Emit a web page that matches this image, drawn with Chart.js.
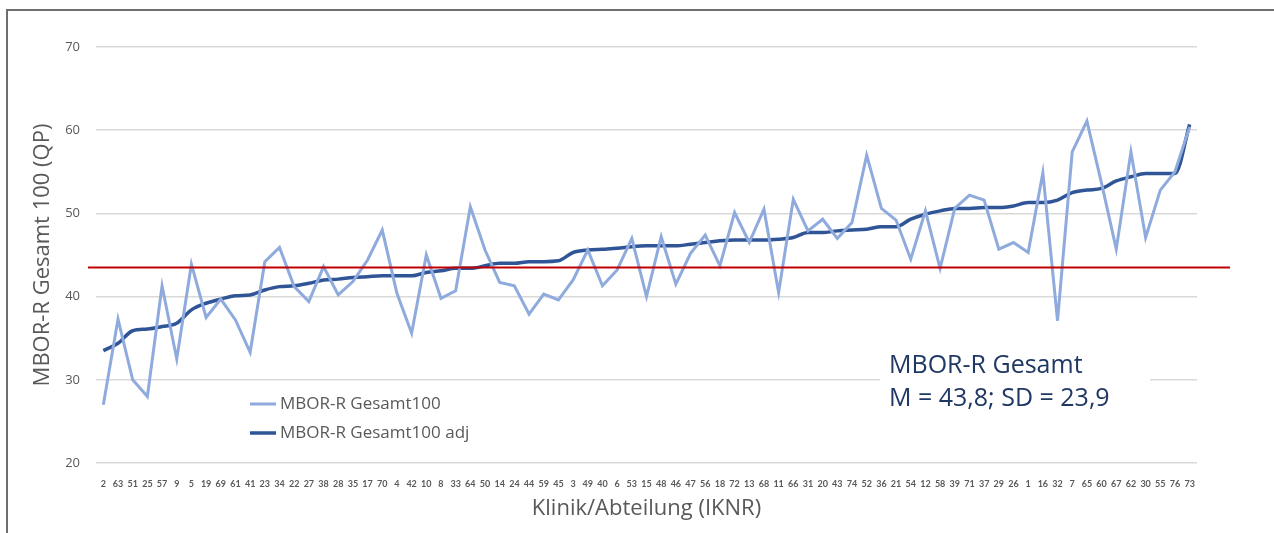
<!DOCTYPE html>
<html>
<head>
<meta charset="utf-8">
<script src="https://cdn.jsdelivr.net/npm/chart.js@4"></script>
<style>
  html, body { margin: 0; padding: 0; background: #fff; }
  #wrap { position: relative; width: 1274px; height: 533px; }
  #frame { position: absolute; left: 6px; top: 9px; right: 0; bottom: 0; border-left: 2px solid #6e6e6e; border-top: 2px solid #6e6e6e; pointer-events: none; }
</style>
</head>
<body>
<div id="wrap">
  <canvas id="chart" width="1274" height="533"></canvas>
  <div id="frame"></div>
</div>
<script>
// Klinik/Abteilung (IKNR), sortiert nach adjustiertem Wert
var kliniken = ['2','63','51','25','57','9','5','19','69','61','41','23','34','22','27','38','28','35','17','70',
  '4','42','10','8','33','64','50','14','24','44','59','45','3','49','40','6','53','15','48','46',
  '47','56','18','72','13','68','11','66','31','20','43','74','52','36','21','54','12','58','39','71',
  '37','29','26','1','16','32','7','65','60','67','62','30','55','76','73'];

// MBOR-R Gesamt100 (roh)
var gesamt100 = [27.0,37.3,30.0,28.0,41.3,32.5,43.9,37.5,39.7,37.2,
  33.3,44.2,45.9,41.2,39.4,43.6,40.2,41.8,44.4,48.0,
  40.4,35.6,45.0,39.8,40.7,50.8,45.6,41.7,41.3,37.9,
  40.3,39.6,42.0,45.6,41.3,43.2,47.0,40.0,47.2,41.5,
  45.2,47.4,43.7,50.1,46.5,50.5,40.5,51.7,47.9,49.3,
  47.0,48.9,57.0,50.6,49.2,44.5,50.3,43.4,50.6,52.2,
  51.6,45.7,46.5,45.3,54.9,37.1,57.4,61.1,53.6,45.7,
  57.4,47.1,52.8,55.0,60.4];

// MBOR-R Gesamt100 adj
var gesamt100Adj = [33.5,34.4,35.9,36.1,36.4,36.8,38.4,39.2,39.7,40.1,
  40.2,40.8,41.2,41.3,41.6,42.0,42.1,42.3,42.4,42.5,
  42.5,42.5,42.9,43.1,43.4,43.4,43.7,44.0,44.0,44.2,
  44.2,44.3,45.3,45.6,45.7,45.8,46.0,46.1,46.1,46.1,
  46.3,46.5,46.7,46.8,46.8,46.8,46.9,47.1,47.7,47.7,
  47.9,48.0,48.1,48.4,48.4,49.3,49.9,50.3,50.6,50.6,
  50.7,50.7,50.9,51.3,51.3,51.6,52.5,52.8,53.0,53.9,
  54.4,54.8,54.8,54.8,60.7];

// Referenzlinie und Kennwerte
var referenzWert = 43.5;
var infoTitel = 'MBOR-R Gesamt';
var infoWerte = 'M = 43,8; SD = 23,9';
var yTicks = [20,30,40,50,60,70];

var grau = '#595959';
var fontName = '"Open Sans", Lato, sans-serif';
var fontKlein = 'Lato, "Open Sans", sans-serif';

//eigene Zeichnungen: Infobox, Referenzlinie, Legende
var extras = {
  id: 'extras',
  beforeDatasetsDraw: function(chart){
    var ctx = chart.ctx;
    ctx.save();
    ctx.fillStyle = '#fff';
    ctx.fillRect(880, 345, 270, 72);
    ctx.fillStyle = '#1f3864';
    ctx.font = '25px ' + fontName;
    ctx.textBaseline = 'middle';
    ctx.textAlign = 'left';
    ctx.fillText(infoTitel, 889, 366);
    ctx.fillText(infoWerte, 889, 399);
    ctx.restore();
  },
  afterDatasetsDraw: function(chart){
    var ctx = chart.ctx;
    var y = chart.scales.y.getPixelForValue(referenzWert);
    ctx.save();
    ctx.strokeStyle = '#c00000';
    ctx.lineWidth = 2;
    ctx.beginPath();
    ctx.moveTo(88, y);
    ctx.lineTo(1230, y);
    ctx.stroke();
    // Legende
    ctx.font = '17px ' + fontName;
    ctx.textBaseline = 'middle';
    ctx.fillStyle = grau;
    chart.data.datasets.forEach(function(ds, i){
      var ly = 404 + i * 29;
      ctx.strokeStyle = ds.borderColor;
      ctx.lineWidth = ds.borderWidth;
      ctx.beginPath();
      ctx.moveTo(250, ly);
      ctx.lineTo(276, ly);
      ctx.stroke();
      ctx.fillText(ds.label, 280, ly);
    });
    ctx.restore();
  }
};

var chart = new Chart(document.getElementById('chart').getContext('2d'), {
  type: 'line',
  data: {
    labels: kliniken,
    datasets: [
      {
        label: 'MBOR-R Gesamt100',
        data: gesamt100,
        borderColor: '#8faadc',
        borderWidth: 3,
        pointRadius: 0,
        tension: 0
      },
      {
        label: 'MBOR-R Gesamt100 adj',
        data: gesamt100Adj,
        borderColor: '#2f5597',
        borderWidth: 3.5,
        pointRadius: 0,
        cubicInterpolationMode: 'monotone'
      }
    ]
  },
  options: {
    responsive: false,
    animation: false,
    layout: { padding: { top: 47, right: 77, left: 0, bottom: 0 } },
    plugins: {
      legend: { display: false },
      tooltip: { enabled: false }
    },
    scales: {
      x: {
        offset: true,
        grid: { display: false },
        border: { display: false },
        ticks: {
          autoSkip: false,
          maxRotation: 0,
          minRotation: 0,
          padding: 8,
          color: grau,
          font: { family: fontKlein, size: 9, weight: 'bold' }
        },
        title: {
          display: true,
          text: 'Klinik/Abteilung (IKNR)',
          color: grau,
          font: { family: fontName, size: 22 },
          padding: { top: 14, bottom: 11 }
        },
        afterFit: function(scale){ scale.height = 70; }
      },
      y: {
        min: 20,
        max: 70,
        afterBuildTicks: function(scale){
          scale.ticks = yTicks.map(function(v){ return { value: v }; });
        },
        grid: { color: '#d9d9d9', lineWidth: 1.5, drawTicks: false },
        border: { display: false },
        ticks: {
          padding: 16,
          color: grau,
          font: { family: fontName, size: 13 }
        },
        title: {
          display: true,
          text: 'MBOR-R Gesamt 100 (QP)',
          color: grau,
          font: { family: fontName, size: 22 },
          padding: { top: 30, bottom: 0 }
        },
        afterFit: function(scale){ scale.width = 96; }
      }
    }
  },
  plugins: [extras]
});
</script>
</body>
</html>
